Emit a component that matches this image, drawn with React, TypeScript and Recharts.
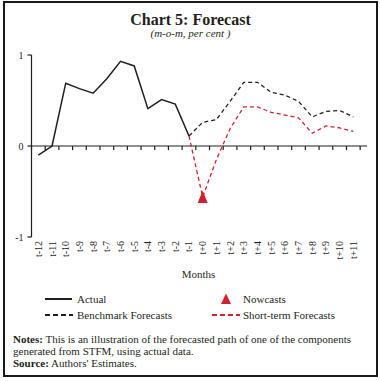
import React from 'react';
import { ComposedChart, Line, Scatter, XAxis, YAxis, ReferenceLine } from 'recharts';

const categories = ['t-12','t-11','t-10','t-9','t-8','t-7','t-6','t-5','t-4','t-3','t-2','t-1','t+0','t+1','t+2','t+3','t+4','t+5','t+6','t+7','t+8','t+9','t+10','t+11'];
const actual: (number | null)[] = [-0.10, 0.00, 0.69, 0.63, 0.58, 0.74, 0.93, 0.88, 0.41, 0.51, 0.46, 0.11, null, null, null, null, null, null, null, null, null, null, null, null];
const benchmark: (number | null)[] = [null, null, null, null, null, null, null, null, null, null, null, 0.11, 0.26, 0.29, 0.49, 0.70, 0.70, 0.59, 0.56, 0.49, 0.32, 0.38, 0.39, 0.32];
const shortTerm: (number | null)[] = [null, null, null, null, null, null, null, null, null, null, null, 0.11, -0.56, -0.15, 0.19, 0.43, 0.43, 0.37, 0.34, 0.31, 0.14, 0.22, 0.20, 0.16];
const nowcast: (number | null)[] = [null, null, null, null, null, null, null, null, null, null, null, null, -0.56, null, null, null, null, null, null, null, null, null, null, null];
const yTicks = [-1, 0, 1];

const data = categories.map((c, i) => ({
  x: i,
  name: c,
  actual: actual[i],
  benchmark: benchmark[i],
  shortTerm: shortTerm[i],
  nowcast: nowcast[i],
}));
const xTicks = categories.map((_, i) => i);
const boundaries = [...categories.map((_, i) => i - 0.5), categories.length - 0.5];

const RED = '#d0202e';
const INK = '#231f20';
const FONT = '"Liberation Serif", "Times New Roman", serif';

const XTick = (props: any) => {
  const { x, y, payload } = props;
  return (
    <g transform={`translate(${x},${y}) rotate(-90)`}>
      <text x={0} y={0} dy="0.35em" textAnchor="end" fontSize={10} fill={INK} fontFamily={FONT}>
        {categories[payload.value]}
      </text>
    </g>
  );
};

const Triangle = (props: any) => {
  const { cx, cy } = props;
  if (cx == null || cy == null) return null;
  return <polygon points={`${cx},${cy - 6.5} ${cx + 5},${cy + 6} ${cx - 5},${cy + 6}`} fill={RED} />;
};

export default function App() {
  return (
    <div style={{ position: 'absolute', left: 0, top: 0, width: 380, height: 381, background: '#fff', fontFamily: FONT, color: INK }}>
      <div style={{ position: 'absolute', left: 3, top: 1, width: 375, height: 376, border: '2px solid #1a1a1a', boxSizing: 'border-box' }} />
      <div style={{ position: 'absolute', left: 0, top: 10, width: 381, textAlign: 'center', fontSize: 16, fontWeight: 'bold', lineHeight: '20px' }}>
        Chart 5: Forecast
      </div>
      <div style={{ position: 'absolute', left: 0, top: 26, width: 381, textAlign: 'center', fontSize: 11, fontStyle: 'italic', lineHeight: '14px' }}>
        (m-o-m, per cent )
      </div>
      <div style={{ position: 'absolute', left: 0, top: 0 }}>
        <ComposedChart width={380} height={381} data={data} margin={{ top: 55, right: 13, bottom: 114, left: 0 }}>
          <XAxis
            dataKey="x"
            type="number"
            domain={[-0.5, categories.length - 0.5]}
            ticks={xTicks}
            interval={0}
            axisLine={false}
            tickLine={false}
            tickSize={0}
            tickMargin={4}
            height={30}
            tick={<XTick />}
            allowDecimals={false}
          />
          <YAxis
            type="number"
            domain={[-1, 1]}
            ticks={yTicks}
            width={31.5}
            tickSize={4}
            tickMargin={4}
            axisLine={{ stroke: INK, strokeWidth: 1.2 }}
            tickLine={{ stroke: INK, strokeWidth: 1.2 }}
            tick={{ fontSize: 10, fill: INK, fontFamily: FONT }}
          />
          <ReferenceLine y={0} stroke={INK} strokeWidth={1.2} />
          {boundaries.map((b) => (
            <ReferenceLine
              key={b}
              segment={[{ x: b, y: 0 }, { x: b, y: -0.045 }]}
              stroke={INK}
              strokeWidth={1.2}
            />
          ))}
          <Line dataKey="actual" stroke={INK} strokeWidth={1.5} dot={false} isAnimationActive={false} connectNulls={false} />
          <Line dataKey="benchmark" stroke={INK} strokeWidth={1.3} strokeDasharray="4 3" dot={false} isAnimationActive={false} />
          <Line dataKey="shortTerm" stroke={RED} strokeWidth={1.3} strokeDasharray="4 3" dot={false} isAnimationActive={false} />
          <Scatter dataKey="nowcast" fill={RED} shape={<Triangle />} isAnimationActive={false} />
        </ComposedChart>
      </div>
      <div style={{ position: 'absolute', left: 0, top: 267, width: 397, textAlign: 'center', fontSize: 11, lineHeight: '14px' }}>
        Months
      </div>
      <svg style={{ position: 'absolute', left: 0, top: 290 }} width={380} height={34}>
        <line x1={45} x2={72} y1={9} y2={9} stroke={INK} strokeWidth={2} />
        <text x={77} y={9} dy="0.35em" fontSize={11} fill={INK} fontFamily={FONT}>Actual</text>
        <polygon points="226,3.5 231,14 221,14" fill={RED} />
        <text x={243} y={9} dy="0.35em" fontSize={11} fill={INK} fontFamily={FONT}>Nowcasts</text>
        <line x1={45} x2={73} y1={25} y2={25} stroke={INK} strokeWidth={2} strokeDasharray="5 3" />
        <text x={77} y={25} dy="0.35em" fontSize={11} fill={INK} fontFamily={FONT}>Benchmark Forecasts</text>
        <line x1={212} x2={240} y1={25} y2={25} stroke={RED} strokeWidth={2} strokeDasharray="5 3" />
        <text x={243} y={25} dy="0.35em" fontSize={11} fill={INK} fontFamily={FONT}>Short-term Forecasts</text>
      </svg>
      <div style={{ position: 'absolute', left: 13, top: 333, fontSize: 11, lineHeight: '12px', whiteSpace: 'nowrap' }}>
        <div><b>Notes:</b> This is an illustration of the forecasted path of one of the components</div>
        <div>generated from STFM, using actual data.</div>
        <div><b>Source:</b> Authors' Estimates.</div>
      </div>
    </div>
  );
}
